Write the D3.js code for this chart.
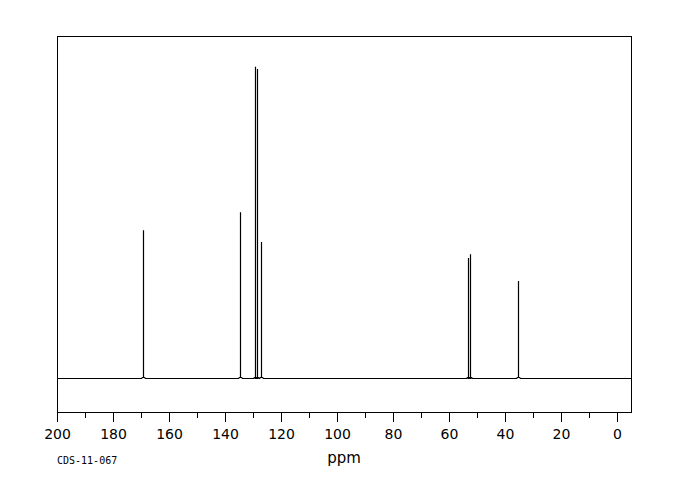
<!DOCTYPE html>
<html><head><meta charset="utf-8">
<script src="https://cdn.jsdelivr.net/npm/d3@7"></script>
<style>body{margin:0;background:#fff}svg{display:block}</style>
</head><body>
<svg id="chart" width="680" height="500"></svg>
<script>
const peakPpm = [169.2, 134.5, 129.2, 128.5, 127.1, 53.1, 52.4, 35.5];
const peakIntensity = [47.5, 53.3, 100, 99.3, 43.7, 38.6, 39.8, 31.2];
const tickValues = [200, 180, 160, 140, 120, 100, 80, 60, 40, 20, 0];
const minorTickValues = [190, 170, 150, 130, 110, 90, 70, 50, 30, 10];
const xLabel = "ppm";
const sampleId = "CDS-11-067";

const svg = d3.select("#chart");
const L = 57, R = 631, T = 36, B = 412;
const x = d3.scaleLinear().domain([200, -5]).range([L, R]);
const y = d3.scaleLinear().domain([-10.9, 109.9]).range([B, T]);

// frame
svg.append("rect").attr("x", L + 0.5).attr("y", T + 0.5)
  .attr("width", R - L).attr("height", B - T)
  .attr("fill", "none").attr("stroke", "#000").attr("stroke-width", 1.2)
  .attr("shape-rendering", "crispEdges");

// spectrum path
const base = Math.round(y(0)) + 0.5;
const order = d3.range(peakPpm.length).sort((a, b) => peakPpm[b] - peakPpm[a]);
let d = `M${L},${base}`;
order.forEach(i => {
  const px = Math.round(x(peakPpm[i])) + 0.5;
  const top = y(peakIntensity[i]);
  d += `L${px - 2},${base}L${px - 1},${base - 1}L${px},${base - 1}L${px},${top}L${px},${base - 1}L${px + 1},${base - 1}L${px + 2},${base}`;
});
d += `L${R},${base}`;
svg.append("path").attr("d", d).attr("fill", "none")
  .attr("stroke", "#000").attr("stroke-width", 1.2);

// axis
const axis = d3.axisBottom(x).tickValues(tickValues).tickSize(9).tickPadding(8)
  .tickFormat(d3.format("d"));
const g = svg.append("g").attr("transform", `translate(0,${B + 0.5})`).call(axis);
g.select(".domain").remove();
g.selectAll(".tick line").attr("stroke", "#000").attr("stroke-width", 1.2)
  .attr("shape-rendering", "crispEdges");
g.selectAll(".tick text").attr("font-family", "DejaVu Sans").attr("font-size", 14)
  .attr("fill", "#000");

const gm = svg.append("g").attr("transform", `translate(0,${B + 0.5})`)
  .call(d3.axisBottom(x).tickValues(minorTickValues).tickSize(5).tickFormat(""));
gm.select(".domain").remove();
gm.selectAll(".tick line").attr("stroke", "#000").attr("stroke-width", 1.2)
  .attr("shape-rendering", "crispEdges");

svg.append("text").attr("x", 344).attr("y", 463).attr("text-anchor", "middle")
  .attr("font-family", "DejaVu Sans").attr("font-size", 15).text(xLabel);
svg.append("text").attr("x", 57).attr("y", 464)
  .attr("font-family", "DejaVu Sans Mono").attr("font-size", 10).text(sampleId);
</script>
</body></html>
